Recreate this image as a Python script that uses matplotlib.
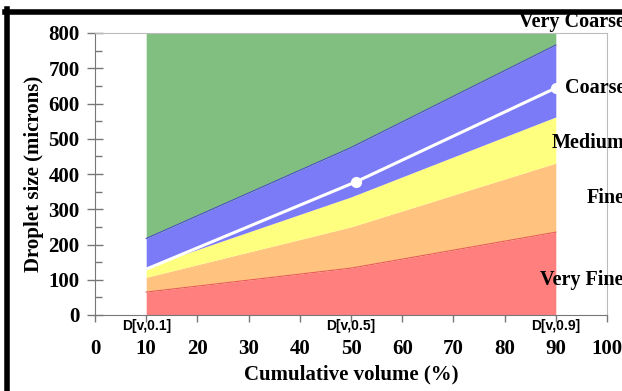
import matplotlib
matplotlib.use("Agg")
import matplotlib.pyplot as plt
from matplotlib.lines import Line2D

# Data
x_pts = [10, 50, 90]
very_fine_top = [65, 133, 235]
fine_top = [107, 250, 431]
medium_top = [136, 335, 562]
coarse_top = [217, 475, 766]
very_coarse_top = [800, 800, 800]
dv_x = [10, 51, 90]
dv_y = [130, 378, 644]
dv_label_x = [10, 50, 90]
dv_labels = ["D[v,0.1]", "D[v,0.5]", "D[v,0.9]"]
class_labels = ["Very Coarse", "Coarse", "Medium", "Fine", "Very Fine"]

W, H = 622, 391
fig = plt.figure(figsize=(W / 100, H / 100), dpi=100)
ax = fig.add_axes([95 / W, 1 - 315 / H, (607 - 95) / W, (315 - 33) / H])

serif = "Liberation Serif"
c_red = "#ff7f7f"
c_orange = "#ffc37f"
c_yellow = "#ffff7f"
c_blue = "#7b7bf7"
c_green = "#80bf80"

ax.fill_between(x_pts, 0, very_fine_top, color=c_red, lw=0)
ax.fill_between(x_pts, very_fine_top, fine_top, color=c_orange, lw=0)
ax.fill_between(x_pts, fine_top, medium_top, color=c_yellow, lw=0)
ax.fill_between(x_pts, medium_top, coarse_top, color=c_blue, lw=0)
ax.fill_between(x_pts, coarse_top, very_coarse_top, color=c_green, lw=0)
ax.plot(x_pts, very_fine_top, color="#e85a5a", lw=0.8)
ax.plot(x_pts, coarse_top, color="#4a4ac8", lw=0.8)
ax.plot(dv_x, dv_y, color="white", lw=2.2)
ax.plot(dv_x[1:], dv_y[1:], "o", color="white", ms=7)

ax.set_xlim(0, 100)
ax.set_ylim(0, 800)
ax.set_xticks(range(0, 101, 10))
ax.set_yticks(range(0, 801, 100))
ax.set_yticks(range(50, 800, 100), minor=True)
for lab in ax.get_xticklabels() + ax.get_yticklabels():
    lab.set_fontfamily(serif)
    lab.set_fontweight("bold")
    lab.set_fontsize(15)
ax.tick_params(axis="y", which="major", direction="inout", length=12, width=1, color="#777777", pad=5)
ax.tick_params(axis="y", which="minor", direction="in", length=5, width=1, color="#777777")
ax.tick_params(axis="x", which="major", direction="out", length=5, width=1, color="#777777", pad=12)
for s in ["top", "right"]:
    ax.spines[s].set_color("#bbbbbb")
for s in ["left", "bottom"]:
    ax.spines[s].set_color("#777777")
ax.set_xlabel("Cumulative volume (%)", fontfamily=serif, fontweight="bold", fontsize=15, labelpad=4)
ax.set_ylabel("Droplet size (microns)", fontfamily=serif, fontweight="bold", fontsize=15, labelpad=3)

for xv, lab in zip(dv_label_x, dv_labels):
    ax.annotate(lab, (xv, 0), xytext=(0, -8), textcoords="offset points",
                ha="center", va="center", fontfamily="Liberation Sans",
                fontweight="bold", fontsize=10)

# Class labels at right
label_pos = [(519, 22), (565, 88), (552, 143), (587, 198), (540, 280)]
for lab, (px, py) in zip(class_labels, label_pos):
    fig.text(px / W, 1 - py / H, lab, ha="left", va="center", fontfamily=serif,
             fontweight="bold", fontsize=14.5)

# Black frame (left and top)
fig.add_artist(Line2D([7.5 / W, 7.5 / W], [0, 1 - 9 / H], color="black", lw=4, transform=fig.transFigure))
fig.add_artist(Line2D([5 / W, 1], [1 - 11.5 / H, 1 - 11.5 / H], color="black", lw=4, transform=fig.transFigure))

fig.savefig("out.png", dpi=100)
